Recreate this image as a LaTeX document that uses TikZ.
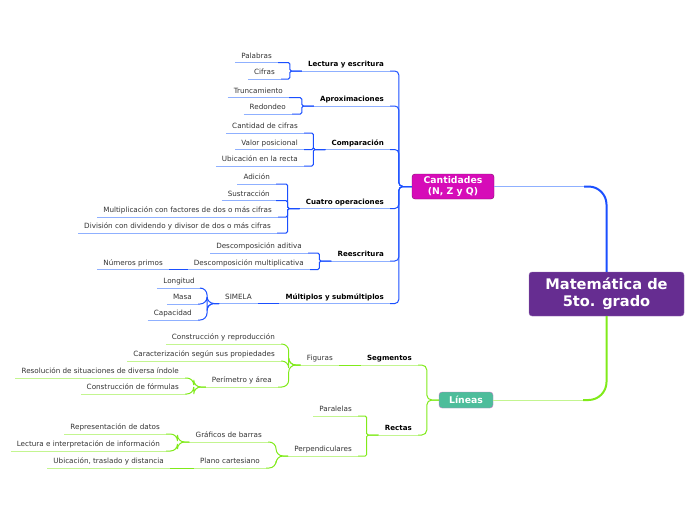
\documentclass[tikz,border=0pt]{standalone}
\usepackage{fontspec}
\setmainfont{DejaVu Sans}
\usetikzlibrary{positioning}
\definecolor{mainPurple}{HTML}{662D91}
\definecolor{cantMagenta}{HTML}{D60CB8}
\definecolor{linTeal}{HTML}{4DBD9B}
\definecolor{linBorder}{HTML}{C77BC7}
\definecolor{blueDark}{HTML}{1A4FFF}
\definecolor{blueLight}{HTML}{8FB0FF}
\definecolor{greenDark}{HTML}{80EA1A}
\definecolor{greenLight}{HTML}{C3F590}
\definecolor{leafText}{HTML}{333333}
\newcommand{\leafSize}[0]{\fontsize{7.2}{8.6}\selectfont}
\newcommand{\topicSize}[0]{\fontsize{7.1}{8.6}\selectfont\bfseries}
\newcommand{\branchSize}[0]{\fontsize{9.3}{11}\selectfont\bfseries}
\newcommand{\rootSize}[0]{\fontsize{14.6}{17}\selectfont\bfseries}

\begin{document}
\begin{tikzpicture}[x=1pt, y=-1pt]
  \tikzset{
    leaf/.style={anchor=south east, inner xsep=6pt, inner ysep=2pt, text height=5.4pt, text depth=2pt, font=\leafSize, text=leafText},
    topic/.style={leaf, font=\topicSize, text=black},
    box/.style={rounded corners=3pt, align=center, text=white, inner sep=0pt},
    blueLine/.style={draw=blueLight, line width=0.9pt},
    blueConn/.style={color=blueDark, draw=blueDark, line width=1pt, rounded corners=1.5pt},
    greenLine/.style={draw=greenLight, line width=0.9pt},
    greenConn/.style={color=greenDark, draw=greenDark, line width=1pt, rounded corners=1.5pt}
  }
  \useasboundingbox (0,0) rectangle (696,520);

  % central topics
  \node[box, fill=mainPurple, draw=mainPurple!70!white, minimum width=155pt, minimum height=44pt, font=\rootSize] (main) at (606.5,294) {Matemática de\\5to. grado};
  \node[box, fill=cantMagenta, draw=cantMagenta!60!black, minimum width=82pt, minimum height=25pt, font=\branchSize] (cant) at (453,186.5) {Cantidades\\(N, Z y Q)};
  \node[box, fill=linTeal, draw=linBorder, minimum width=54pt, minimum height=16pt, font=\branchSize] (lin) at (466,400) {Líneas};

  % Cantidades
  \node[topic] (lectura) at (390,71) {Lectura y escritura};
  \node[topic] (aprox) at (390,106) {Aproximaciones};
  \node[topic] (compar) at (390,149.5) {Comparación};
  \node[topic] (cuatro) at (390,208.5) {Cuatro operaciones};
  \node[topic] (reesc) at (390,261) {Reescritura};
  \node[topic] (multiplos) at (390,303.5) {Múltiplos y submúltiplos};

  \node[leaf] (palabras) at (278,62.5) {Palabras};
  \node[leaf] (cifras) at (281,79) {Cifras};
  \node[leaf] (trunc) at (289,97.7) {Truncamiento};
  \node[leaf] (redondeo) at (292,114) {Redondeo};
  \node[leaf] (cantcifras) at (304,133) {Cantidad de cifras};
  \node[leaf] (valorpos) at (304,149.5) {Valor posicional};
  \node[leaf] (ubicrecta) at (304,166) {Ubicación en la recta};
  \node[leaf] (adicion) at (276,184) {Adición};
  \node[leaf] (sustraccion) at (276,200.7) {Sustracción};
  \node[leaf] (multiplic) at (278,217) {Multiplicación con factores de dos o más cifras};
  \node[leaf] (division) at (277,233) {División con dividendo y divisor de dos o más cifras};
  \node[leaf] (descadit) at (308,253) {Descomposición aditiva};
  \node[leaf] (descmult) at (310,269.5) {Descomposición multiplicativa};
  \node[leaf] (primos) at (169,269.5) {Números primos};
  \node[leaf] (simela) at (258,303.5) {SIMELA};
  \node[leaf] (longitud) at (201,288) {Longitud};
  \node[leaf] (masa) at (198,304) {Masa};
  \node[leaf] (capacidad) at (198,320) {Capacidad};

  % Lineas
  \node[topic] (segmentos) at (418,365) {Segmentos};
  \node[topic] (rectas) at (418,435) {Rectas};
  \node[leaf] (figuras) at (339,365) {Figuras};
  \node[leaf] (construccion) at (281,344) {Construcción y reproducción};
  \node[leaf] (caracter) at (281,361) {Caracterización según sus propiedades};
  \node[leaf] (perimetro) at (278,387) {Perímetro y área};
  \node[leaf] (resolucion) at (185,378) {Resolución de situaciones de diversa índole};
  \node[leaf] (formulas) at (185,394) {Construcción de fórmulas};
  \node[leaf] (paralelas) at (358,416) {Paralelas};
  \node[leaf] (perpend) at (358,456) {Perpendiculares};
  \node[leaf] (graficos) at (268,442) {Gráficos de barras};
  \node[leaf] (plano) at (266,468) {Plano cartesiano};
  \node[leaf] (represent) at (166,434) {Representación de datos};
  \node[leaf] (interpret) at (166,451) {Lectura e interpretación de información};
  \node[leaf] (traslado) at (170,468) {Ubicación, traslado y distancia};

  % underlines
  \foreach \n in {lectura,aprox,compar,cuatro,reesc,multiplos,palabras,cifras,trunc,redondeo,cantcifras,valorpos,ubicrecta,adicion,sustraccion,multiplic,division,descadit,descmult,primos,simela,longitud,masa,capacidad}
    \draw[blueLine] (\n.south west) -- (\n.south east);
  \foreach \n in {segmentos,rectas,figuras,construccion,caracter,perimetro,resolucion,formulas,paralelas,perpend,graficos,plano,represent,interpret,traslado}
    \draw[greenLine] (\n.south west) -- (\n.south east);

  % connectors
  \coordinate (cantBend) at ([xshift=90pt]cant.east);
  \coordinate (linBend) at ([xshift=90pt]lin.east);
  \draw[blueLight, line width=1pt] (cant.east) -- (cantBend);
  \draw[blueDark, line width=2pt, rounded corners=18pt] (cantBend) -| (main.north);
  \draw[greenLight, line width=1pt] (lin.east) -- (linBend);
  \draw[greenDark, line width=2pt, rounded corners=18pt] (linBend) -| (main.south);

  \foreach \kid in {lectura,aprox,compar,cuatro,reesc,multiplos}
    \draw[blueConn, rounded corners=4pt] (\kid.south east) -| ([xshift=-13pt]cant.west) -- (cant.west);
  \foreach \kid/\mom in {palabras/lectura,cifras/lectura,trunc/aprox,redondeo/aprox,cantcifras/compar,valorpos/compar,ubicrecta/compar,adicion/cuatro,sustraccion/cuatro,multiplic/cuatro,division/cuatro,descadit/reesc,descmult/reesc}
    \draw[blueConn] (\kid.south east) -| ([xshift=-12pt]\mom.south west) -- (\mom.south west);
  \foreach \kid in {longitud,masa,capacidad}
    \draw[blueConn, rounded corners=7pt] (\kid.south east) -| ([xshift=-12pt]simela.south west) -- (simela.south west);
  \foreach \kid/\mom in {primos/descmult,simela/multiplos}
    \fill[blueDark] ([yshift=-0.5pt]\kid.south east) rectangle ([yshift=0.5pt]\mom.south west);

  \foreach \kid in {segmentos,rectas}
    \draw[greenConn, rounded corners=5pt] (\kid.south east) -| ([xshift=-12pt]lin.west) -- (lin.west);
  \foreach \kid/\mom in {paralelas/rectas,perpend/rectas}
    \draw[greenConn] (\kid.south east) -| ([xshift=-12pt]\mom.south west) -- (\mom.south west);
  \foreach \kid/\mom in {construccion/figuras,caracter/figuras,perimetro/figuras,resolucion/perimetro,formulas/perimetro,graficos/perpend,plano/perpend,represent/graficos,interpret/graficos}
    \draw[greenConn, rounded corners=7pt] (\kid.south east) -| ([xshift=-12pt]\mom.south west) -- (\mom.south west);
  \foreach \kid/\mom in {figuras/segmentos,traslado/plano}
    \fill[greenDark] ([yshift=-0.5pt]\kid.south east) rectangle ([yshift=0.5pt]\mom.south west);
\end{tikzpicture}
\end{document}
